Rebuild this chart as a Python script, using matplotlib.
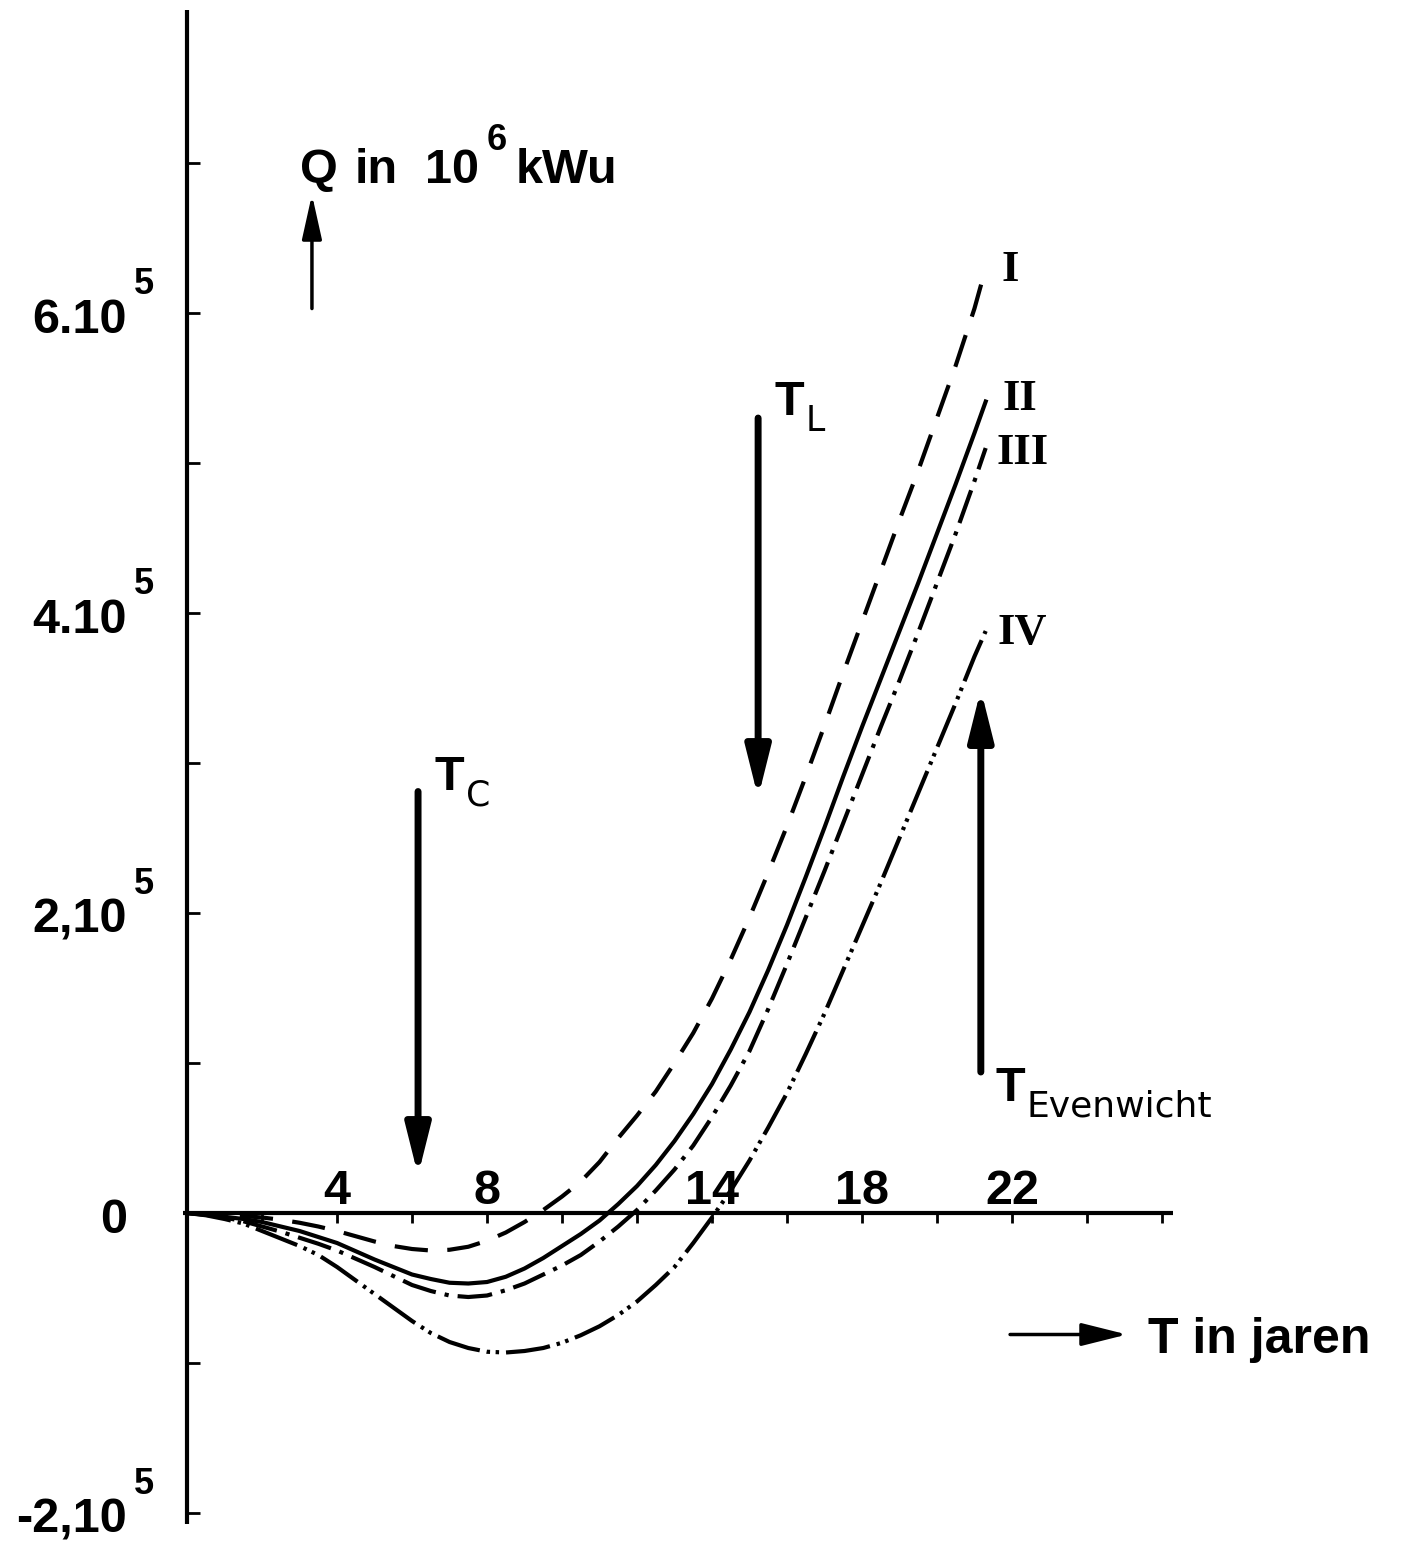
import matplotlib
matplotlib.use("Agg")
import matplotlib.pyplot as plt

plt.rcParams['font.family'] = ['Liberation Sans', 'DejaVu Sans']
plt.rcParams['lines.scale_dashes'] = False

# --- curves: T in jaren, Q in units of 10^5 (x 10^6 kWu) ---
t_half = [0, 0.5, 1, 1.5, 2, 2.5, 3, 3.5, 4, 4.5, 5, 5.5, 6, 6.5, 7, 7.5, 8, 8.5, 9, 9.5,
          10, 10.5, 11, 11.5, 12, 12.5, 13, 13.5, 14, 14.5, 15, 15.5, 16, 16.5, 17, 17.5,
          18, 18.5, 19, 19.5, 20, 20.5, 21, 21.3]

q_I = [0, -0.005, -0.012, -0.02, -0.03, -0.045, -0.065, -0.09, -0.12, -0.155, -0.19, -0.22,
       -0.24, -0.25, -0.245, -0.225, -0.185, -0.13, -0.06, 0.02, 0.11, 0.21, 0.34, 0.5,
       0.65, 0.81, 1.0, 1.2, 1.43, 1.69, 1.97, 2.27, 2.58, 2.91, 3.25, 3.6, 3.94, 4.28,
       4.62, 4.95, 5.3, 5.65, 6.03, 6.3]

q_II = [0, -0.01, -0.025, -0.04, -0.06, -0.09, -0.12, -0.16, -0.2, -0.255, -0.31, -0.36,
        -0.41, -0.44, -0.465, -0.47, -0.46, -0.425, -0.37, -0.3, -0.22, -0.14, -0.05, 0.06,
        0.18, 0.32, 0.48, 0.66, 0.86, 1.09, 1.34, 1.62, 1.92, 2.24, 2.57, 2.91, 3.24, 3.56,
        3.88, 4.2, 4.53, 4.86, 5.2, 5.41]

q_III = [0, -0.012, -0.03, -0.055, -0.09, -0.125, -0.165, -0.205, -0.25, -0.305, -0.36,
         -0.42, -0.48, -0.52, -0.55, -0.56, -0.55, -0.515, -0.47, -0.41, -0.35, -0.28,
         -0.19, -0.09, 0.02, 0.15, 0.29, 0.45, 0.64, 0.85, 1.08, 1.36, 1.66, 1.97, 2.28,
         2.6, 2.92, 3.24, 3.55, 3.87, 4.2, 4.53, 4.88, 5.1]

q_IV = [0, -0.015, -0.04, -0.07, -0.12, -0.17, -0.22, -0.28, -0.36, -0.45, -0.54, -0.63,
        -0.72, -0.8, -0.86, -0.9, -0.925, -0.93, -0.92, -0.9, -0.865, -0.815, -0.755,
        -0.68, -0.59, -0.48, -0.36, -0.2, -0.03, 0.15, 0.35, 0.57, 0.8, 1.06, 1.33, 1.62,
        1.91, 2.2, 2.5, 2.8, 3.1, 3.4, 3.71, 3.88]

curve_names = ["I", "II", "III", "IV"]
# where each roman numeral sits (T, Q)
name_pos = [(21.95, 6.29), (22.2, 5.43), (22.27, 5.07), (22.27, 3.87)]

x_ticks = [2, 4, 6, 8, 10, 12, 14, 16, 18, 20, 22, 24, 26]
x_labels = [4, 8, 14, 18, 22]
y_ticks = [-2, -1, 0, 1, 2, 3, 4, 5, 6, 7]
y_label_vals = [6, 4, 2, 0, -2]
y_label_text = ["6.10", "4.10", "2,10", "0", "-2,10"]
y_label_exp = ["5", "5", "5", "", "5"]

# vertical marker arrows: T position, tail Q, tip Q, subscript
mark_t = [6.16, 15.23, 21.17]
mark_from = [2.81, 5.30, 0.94]
mark_to = [0.25, 2.77, 3.49]
mark_sub = ["C", "L", "Evenwicht"]
mark_label_pos = [(6.61, 2.82), (15.68, 5.32), (21.55, 0.75)]

# y-axis title split in words, as spaced in the original
q_words = ["Q", "in", "10", "kWu"]
q_word_x = [3.01, 4.48, 6.35, 8.75]

fig = plt.figure(figsize=(14.03, 15.46), dpi=100)
ax = fig.add_axes([0, 0, 1, 1])
ax.set_xlim(-4.99, 32.43)
ax.set_ylim(-2.22, 8.087)
ax.patch.set_visible(False)

for s in ['top', 'right']:
    ax.spines[s].set_visible(False)
ax.spines['left'].set_position(('data', 0))
ax.spines['bottom'].set_position(('data', 0))
ax.spines['left'].set_bounds(-2.07, 8.02)
ax.spines['bottom'].set_bounds(-0.1, 26.3)
ax.spines[['left', 'bottom']].set_linewidth(3)
ax.spines[['left', 'bottom']].set_capstyle('butt')
ax.set_xticks(x_ticks)
ax.set_yticks(y_ticks)
ax.tick_params(axis='x', direction='out', length=7, width=2, labelbottom=False)
ax.tick_params(axis='y', direction='in', length=9, width=2, labelleft=False)

# --- curves ---
lw = 3
ax.plot(t_half, q_I, color='black', lw=lw, linestyle=(0, (24, 14)))
ax.plot(t_half, q_II, color='black', lw=lw, linestyle='-')
ax.plot(t_half, q_III, color='black', lw=lw, linestyle=(0, (25, 6.5, 3, 6.5)))
ax.plot(t_half, q_IV, color='black', lw=lw, linestyle=(0, (32, 5, 2.5, 4, 2.5, 5)))

for name, (x, y) in zip(curve_names, name_pos):
    ax.text(x, y, name, ha='center', va='center', fontsize=32, weight='bold',
            family=['Liberation Serif', 'DejaVu Serif'])

# --- tick labels ---
for v in x_labels:
    ax.text(v, 0.06, str(v), ha='center', va='baseline', fontsize=35, weight='bold')

for v, txt, e in zip(y_label_vals, y_label_text, y_label_exp):
    ax.text(-1.6, v - 0.13, txt, ha='right', va='baseline', fontsize=35, weight='bold')
    if e:
        ax.text(-1.42, v + 0.13, e, ha='left', va='baseline', fontsize=26, weight='bold')

# --- marker arrows ---
for t, q0, q1, sub, (lx, ly) in zip(mark_t, mark_from, mark_to, mark_sub, mark_label_pos):
    ax.annotate('', xy=(t, q1), xytext=(t, q0),
                arrowprops=dict(arrowstyle='-|>,head_length=30,head_width=7.5',
                                mutation_scale=1, lw=5, color='black',
                                shrinkA=0, shrinkB=0, joinstyle='round', capstyle='round'))
    txt = ax.text(lx, ly, 'T', ha='left', va='baseline', fontsize=35, weight='bold')
    ax.annotate(sub, xy=(1, 0), xycoords=txt, xytext=(1, -4), textcoords='offset points',
                ha='left', va='baseline', fontsize=25 if len(sub) == 1 else 26,
                family=['DejaVu Sans'])

# --- axis titles with their arrows ---
ax.annotate('', xy=(3.33, 6.79), xytext=(3.33, 6.03),
            arrowprops=dict(arrowstyle='-|>,head_length=27,head_width=6',
                            mutation_scale=1, lw=2.5, color='black',
                            shrinkA=0, shrinkB=0))
for w, x in zip(q_words, q_word_x):
    ax.text(x, 6.87, w, ha='left', va='baseline', fontsize=35, weight='bold')
ax.text(8.0, 7.09, '6', ha='left', va='baseline', fontsize=26, weight='bold')

ax.annotate('', xy=(25.07, -0.81), xytext=(21.95, -0.81),
            arrowprops=dict(arrowstyle='-|>,head_length=28,head_width=7',
                            mutation_scale=1, lw=2.5, color='black',
                            shrinkA=0, shrinkB=0))
ax.text(25.63, -0.93, 'T in jaren', ha='left', va='baseline', fontsize=36, weight='bold')

fig.savefig('out.png', dpi=100, facecolor='white')
